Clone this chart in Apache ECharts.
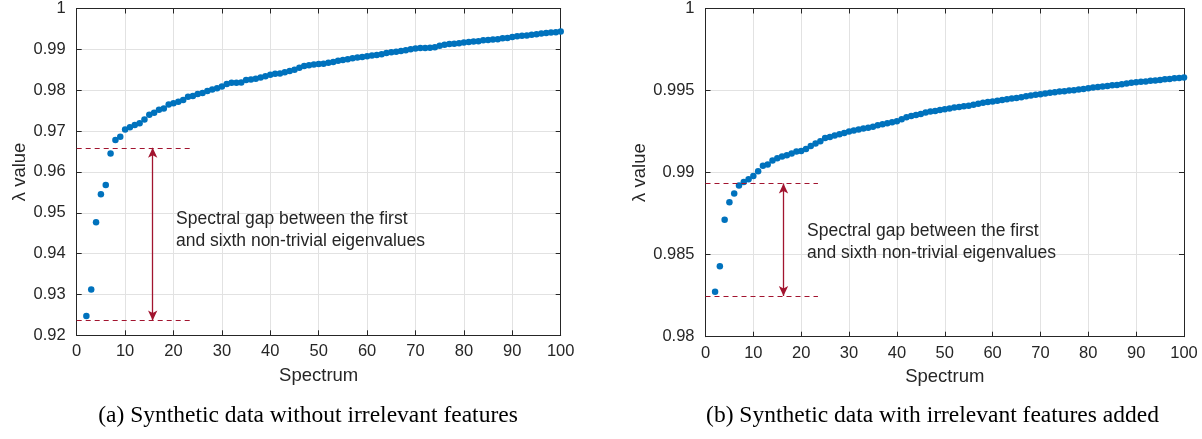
<!DOCTYPE html>
<html>
<head>
<meta charset="utf-8">
<script src="https://cdn.jsdelivr.net/npm/echarts@6/dist/echarts.min.js"></script>
<style>
html,body{margin:0;padding:0;background:#fff;}
#chart{width:1202px;height:439px;}
</style>
</head>
<body>
<div id="chart"></div>
<script>
// ---- data ----
const spectrumIdx = [2,3,4,5,6,7,8,9,10,11,12,13,14,15,16,17,18,19,20,21,22,23,24,25,26,27,28,29,30,31,32,33,34,35,36,37,38,39,40,41,42,43,44,45,46,47,48,49,50,51,52,53,54,55,56,57,58,59,60,61,62,63,64,65,66,67,68,69,70,71,72,73,74,75,76,77,78,79,80,81,82,83,84,85,86,87,88,89,90,91,92,93,94,95,96,97,98,99,100];

const lambdaNoIrrelevant = [
  0.9247,0.9312,0.9477,0.9545,0.9568,0.9645,0.9678,0.9686,0.9704,
  0.9709,0.9715,0.9719,0.9728,0.9740,0.9745,0.9752,0.9755,0.9765,0.9768,
  0.9772,0.9776,0.9784,0.9786,0.9791,0.9793,0.9798,0.9802,0.9805,0.9809,
  0.9815,0.9818,0.9818,0.9819,0.9825,0.9826,0.9828,0.9831,0.9834,0.9838,
  0.9840,0.9841,0.9844,0.9847,0.9850,0.9855,0.9859,0.9861,0.9863,0.9864,
  0.9865,0.9867,0.9869,0.9872,0.9874,0.9876,0.9878,0.9880,0.9881,0.9883,
  0.9885,0.9886,0.9888,0.9891,0.9893,0.9894,0.9896,0.9898,0.9900,0.9902,
  0.9903,0.9903,0.9904,0.9905,0.9909,0.9911,0.9913,0.9914,0.9915,0.9917,
  0.9918,0.9919,0.9920,0.9922,0.9923,0.9924,0.9925,0.9927,0.9928,0.9930,
  0.9932,0.9933,0.9934,0.9936,0.9937,0.9939,0.9940,0.9941,0.9942,0.9944
];

const lambdaWithIrrelevant = [
  0.98274,0.98429,0.98712,0.98820,0.98873,0.98921,0.98943,0.98960,0.98980,
  0.99008,0.99041,0.99049,0.99073,0.99088,0.99098,0.99106,0.99116,0.99128,0.99132,
  0.99144,0.99162,0.99177,0.99191,0.99211,0.99217,0.99226,0.99234,0.99242,0.99250,
  0.99256,0.99262,0.99268,0.99274,0.99280,0.99288,0.99294,0.99300,0.99307,0.99313,
  0.99325,0.99337,0.99345,0.99351,0.99357,0.99366,0.99372,0.99376,0.99382,0.99386,
  0.99390,0.99396,0.99400,0.99404,0.99408,0.99414,0.99420,0.99426,0.99430,0.99434,
  0.99438,0.99443,0.99447,0.99451,0.99455,0.99459,0.99466,0.99470,0.99474,0.99478,
  0.99482,0.99486,0.99490,0.99494,0.99496,0.99500,0.99502,0.99506,0.99510,0.99514,
  0.99518,0.99522,0.99524,0.99528,0.99532,0.99534,0.99539,0.99543,0.99547,0.99551,
  0.99553,0.99555,0.99559,0.99561,0.99565,0.99569,0.99571,0.99575,0.99577,0.99579
];

// gap annotations: [lower level, upper level]
const gapLevelsLeft = [0.9236, 0.9659];
const gapLevelsRight = [0.98248, 0.98934];
const gapLineStartX = 0;
const gapLineEndX = 23.5;
const gapArrowXLeft = 15.7;
const gapArrowXRight = 16.3;

const xTickRange = [0, 100, 10];          // min, max, interval
const yTickRangeLeft = [0.92, 1, 0.01];
const yTickRangeRight = [0.98, 1, 0.005];

const xAxisName = 'Spectrum';
const yAxisName = 'λ value';
const gapText = 'Spectral gap between the first\nand sixth non-trivial eigenvalues';
const captionLeft = '(a) Synthetic data without irrelevant features';
const captionRight = '(b) Synthetic data with irrelevant features added';

// ---- styles ----
const AX = '#262626';
const GRID = '#e2e2e2';
const DOT = '#0072BD';
const RED = '#A2142F';
const SANS = '"Liberation Sans", Arial, Helvetica, sans-serif';
const SERIF = '"Liberation Serif", "Times New Roman", serif';

function fmt(v){ return String(parseFloat(v.toFixed(4))); }

function pts(xs, ys){ return xs.map((x,i)=>[x, ys[i]]); }

function mainX(gi){
  return {
    gridIndex: gi, type:'value', position:'bottom',
    min:xTickRange[0], max:xTickRange[1], interval:xTickRange[2],
    name:xAxisName, nameLocation:'middle', nameGap:31,
    nameTextStyle:{fontFamily:SANS, fontSize:18.5, color:AX},
    axisLine:{show:true, onZero:false, lineStyle:{color:AX, width:1}},
    axisTick:{show:true, inside:true, length:5, lineStyle:{color:AX}},
    axisLabel:{show:true, fontFamily:SANS, fontSize:16.5, color:AX, margin:8},
    splitLine:{show:true, lineStyle:{color:GRID, width:1}}
  };
}
function topX(gi){
  return {
    gridIndex: gi, type:'value', position:'top',
    min:xTickRange[0], max:xTickRange[1], interval:xTickRange[2],
    axisLine:{show:true, onZero:false, lineStyle:{color:AX, width:1}},
    axisTick:{show:true, inside:true, length:5, lineStyle:{color:AX}},
    axisLabel:{show:false}, splitLine:{show:false}
  };
}
function mainY(gi, r, gap){
  return {
    gridIndex: gi, type:'value', position:'left',
    min:r[0], max:r[1], interval:r[2],
    name:yAxisName, nameLocation:'middle', nameGap:gap, nameRotate:90,
    nameTextStyle:{fontFamily:SANS, fontSize:18.5, color:AX},
    axisLine:{show:true, onZero:false, lineStyle:{color:AX, width:1}},
    axisTick:{show:true, inside:true, length:5, lineStyle:{color:AX}},
    axisLabel:{show:true, fontFamily:SANS, fontSize:16.5, color:AX, margin:11, formatter:fmt},
    splitLine:{show:true, lineStyle:{color:GRID, width:1}}
  };
}
function rightY(gi, r){
  return {
    gridIndex: gi, type:'value', position:'right',
    min:r[0], max:r[1], interval:r[2],
    axisLine:{show:true, onZero:false, lineStyle:{color:AX, width:1}},
    axisTick:{show:true, inside:true, length:5, lineStyle:{color:AX}},
    axisLabel:{show:false}, splitLine:{show:false}
  };
}

function gapMarks(levels, arrowX){
  return {
    silent:true, animation:false,
    label:{show:false},
    emphasis:{disabled:true},
    data:[
      [{coord:[gapLineStartX, levels[0]], symbol:'none', lineStyle:{color:RED, width:1, type:[5,4]}},
       {coord:[gapLineEndX, levels[0]], symbol:'none'}],
      [{coord:[gapLineStartX, levels[1]], symbol:'none', lineStyle:{color:RED, width:1, type:[5,4]}},
       {coord:[gapLineEndX, levels[1]], symbol:'none'}],
      [{coord:[arrowX, levels[0]], symbol:'arrow', symbolSize:[7,10], lineStyle:{color:RED, width:1.3, type:'solid'}},
       {coord:[arrowX, levels[1]], symbol:'arrow', symbolSize:[7,10]}]
    ]
  };
}

const chart = echarts.init(document.getElementById('chart'), null, {renderer:'canvas'});
chart.setOption({
  animation:false,
  backgroundColor:'#ffffff',
  grid:[
    {left:76.7, top:7.3, width:484, height:328},
    {left:705.5, top:8, width:478.5, height:328.7}
  ],
  xAxis:[mainX(0), topX(0), mainX(1), topX(1)],
  yAxis:[mainY(0, yTickRangeLeft, 44), rightY(0, yTickRangeLeft), mainY(1, yTickRangeRight, 52), rightY(1, yTickRangeRight)],
  series:[
    {type:'scatter', xAxisIndex:0, yAxisIndex:0, data:pts(spectrumIdx, lambdaNoIrrelevant),
     symbol:'circle', symbolSize:6.5, itemStyle:{color:DOT, opacity:1}, markLine:gapMarks(gapLevelsLeft, gapArrowXLeft), z:3},
    {type:'scatter', xAxisIndex:2, yAxisIndex:2, data:pts(spectrumIdx, lambdaWithIrrelevant),
     symbol:'circle', symbolSize:6.5, itemStyle:{color:DOT, opacity:1}, markLine:gapMarks(gapLevelsRight, gapArrowXRight), z:3}
  ],
  graphic:[
    {type:'text', z:100, left:176, top:208, style:{text:gapText, font:'17.5px ' + SANS, fill:AX, lineHeight:22}},
    {type:'text', z:100, left:807, top:220.5, style:{text:gapText, font:'17.5px ' + SANS, fill:AX, lineHeight:22}},
    {type:'text', z:100, x:308, y:416, style:{text:captionLeft, font:'23.5px ' + SERIF, fill:'#000', align:'center', verticalAlign:'middle'}},
    {type:'text', z:100, x:932.5, y:416, style:{text:captionRight, font:'23.5px ' + SERIF, fill:'#000', align:'center', verticalAlign:'middle'}}
  ]
});
</script>
</body>
</html>
